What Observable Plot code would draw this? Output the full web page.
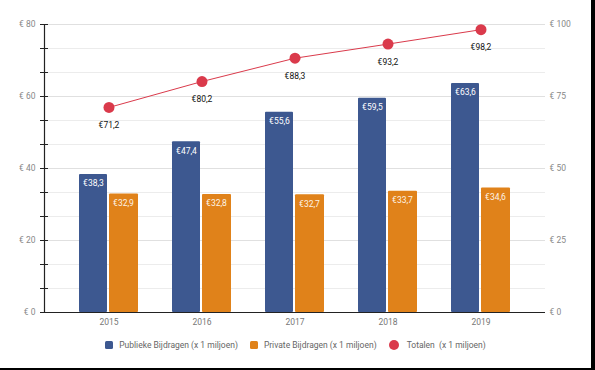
<!DOCTYPE html>
<html><head><meta charset="utf-8">
<script src="https://cdn.jsdelivr.net/npm/d3@7"></script>
<script src="https://cdn.jsdelivr.net/npm/@observablehq/plot@0.6"></script>
<style>
html,body{margin:0;padding:0;background:#000;}
#wrap{width:591px;height:368px;background:#fff;font-family:Roboto,"Noto Sans",sans-serif;}
#legend{display:flex;justify-content:center;align-items:center;height:26px;font-size:8.5px;color:#666;margin-top:0;}
.it{display:flex;align-items:center;margin:0 6px;}
.sw{width:8px;height:8px;border-radius:1.5px;margin-right:6px;}
.ci{width:10px;height:10px;border-radius:50%;margin-right:8px;}
</style></head>
<body><div id="wrap"><div id="chart"></div><div id="legend"></div></div>
<script>
const years = ["2015","2016","2017","2018","2019"];
const publiek = [38.3,47.4,55.6,59.5,63.6];
const privaat = [32.9,32.8,32.7,33.7,34.6];
const totalen = [71.2,80.2,88.3,93.2,98.2];
const leftMax = 80, rightMax = 100;
const leftLabels = [0,20,40,60,80];
const rightLabels = [0,25,50,75,100];
const seriesNames = ["Publieke Bijdragen (x 1 miljoen)","Private Bijdragen (x 1 miljoen)","Totalen  (x 1 miljoen)"];

const blue = "#3d5890", orange = "#e0821a", red = "#da3a4b";
const data = years.map((y,i)=>({year:y, publiek:publiek[i], privaat:privaat[i], totaal:totalen[i]}));
const fmt = v => "€" + v.toFixed(1).replace(".", ",");
const scaleR = leftMax / rightMax;
const grid = d3.range(13).map(i => i*leftMax/12);
const major = grid.filter((d,i)=> i%3===0);
const minor = grid.filter((d,i)=> i%3!==0);
const fs = 8.5;

const chart = Plot.plot({
  width:591, height:332, marginLeft:44, marginRight:46, marginTop:24, marginBottom:20,
  style:{fontFamily:"Roboto, sans-serif", background:"#fff"},
  x:{type:"band", domain:years, paddingInner:0.37, paddingOuter:0, insetLeft:33, insetRight:33, axis:null},
  y:{domain:[0,leftMax], axis:null},
  marks:[
    Plot.ruleY(minor, {stroke:"#ececec", strokeWidth:1}),
    Plot.ruleY(major, {stroke:"#e0e0e0", strokeWidth:1}),
    Plot.barY(data, {x:"year", y:"publiek", fill:blue, insetRight:31, rx:1}),
    Plot.barY(data, {x:"year", y:"privaat", fill:orange, insetLeft:30, rx:1}),
    Plot.text(data, {x:"year", y:"publiek", text:d=>fmt(d.publiek), dx:-15.5, dy:9, fill:"#fff", fontSize:fs}),
    Plot.text(data, {x:"year", y:"privaat", text:d=>fmt(d.privaat), dx:14.5, dy:9, fill:"#fdf3e6", fontSize:fs}),
    Plot.line(data, {x:"year", y:d=>d.totaal*scaleR, stroke:red, strokeWidth:1}),
    Plot.dot(data, {x:"year", y:d=>d.totaal*scaleR, r:5.5, fill:red}),
    Plot.text(data, {x:"year", y:d=>d.totaal*scaleR, text:d=>fmt(d.totaal), dy:18, fill:"#111", fontSize:fs}),
    Plot.ruleY([0], {stroke:"#222", strokeWidth:1.2}),
    Plot.frame({anchor:"left", stroke:"#222", strokeWidth:1.2}),
    Plot.axisY(grid, {anchor:"left", label:null, tickSize:4, tickPadding:5, tickFormat:d=> leftLabels.some(l=>Math.abs(l-d)<1e-6) ? "€ " + Math.round(d) : "", fill:"#888", stroke:"#222", fontSize:fs}),
    Plot.axisY(grid, {anchor:"left", label:null, tickSize:-4, tickFormat:()=>"", stroke:"#222"}),
    Plot.axisY(rightLabels.map(v=>v*scaleR), {anchor:"right", label:null, tickSize:0, tickPadding:4, tickFormat:d=>"€ " + Math.round(d/scaleR), fill:"#888", fontSize:fs}),
    Plot.axisX({label:null, tickSize:0, tickPadding:6, fill:"#777", fontSize:fs})
  ]
});
document.getElementById("chart").appendChild(chart);

const lg = document.getElementById("legend");
const cols = [blue, orange, red];
seriesNames.forEach((n,i)=>{
  const it = document.createElement("div"); it.className="it";
  const sw = document.createElement("div"); sw.className = i===2 ? "ci" : "sw"; sw.style.background = cols[i];
  const tx = document.createElement("span"); tx.textContent = n; tx.style.whiteSpace="pre";
  it.appendChild(sw); it.appendChild(tx); lg.appendChild(it);
});
</script></body></html>
